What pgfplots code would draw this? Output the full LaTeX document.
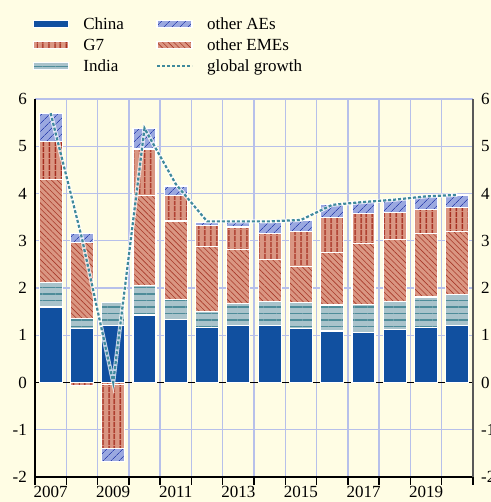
\documentclass[border=0pt]{standalone}
\usepackage{fontspec}
\setmainfont{Liberation Serif}
\usepackage{pgfplots}
\pgfplotsset{compat=1.18}
\usetikzlibrary{patterns.meta}
\definecolor{bg}{HTML}{FFFDE4}
\definecolor{chinaC}{HTML}{1150A0}
\definecolor{indiaF}{HTML}{A9C3CB}
\definecolor{indiaL}{HTML}{4E8C99}
\definecolor{emeF}{HTML}{DA9682}
\definecolor{emeL}{HTML}{A83A2A}
\definecolor{g7L}{HTML}{A52C1E}
\definecolor{aeF}{HTML}{9AA8E0}
\definecolor{aeL}{HTML}{3448B0}
\definecolor{gridC}{HTML}{B7C0EA}
\definecolor{lineC}{HTML}{3F8A9C}
\pgfplotsset{
 chinaS/.style={fill=chinaC, draw=white, line width=1.2bp},
 indiaS/.style={fill=indiaF, draw=white, line width=1.2bp, postaction={pattern={Lines[angle=0,distance=6.5bp,line width=1.8bp]}, pattern color=indiaL}},
 emeS/.style={fill=emeF, draw=white, line width=1.2bp, postaction={pattern={Lines[angle=-45,distance=4bp,line width=0.6bp]}, pattern color=emeL}},
 g7S/.style={fill=emeF, draw=white, line width=1.2bp, postaction={pattern={Lines[angle=90,distance=6bp,line width=1.8bp]}, pattern color=g7L}},
 aeS/.style={fill=aeF, draw=white, line width=1.2bp, postaction={pattern={Lines[angle=45,distance=6bp,line width=0.7bp]}, pattern color=aeL}},
 barleg/.style={legend image code/.code={\draw[##1] (0bp,-3.5bp) rectangle (35bp,3.5bp);}},
 lineleg/.style={legend image code/.code={\draw[##1] (0bp,0bp) -- (35bp,0bp);}},
 base/.style={width=438bp, height=378bp, scale only axis, at={(0,0)}, anchor=south west,
   xmin=0.5, xmax=14.5, ymin=-2, ymax=6, enlargelimits=false},
 tfont/.style={tick label style={font=\fontsize{17bp}{20bp}\selectfont}},
}
\begin{document}
\begin{tikzpicture}
\fill[bg] (-35bp,-25bp) rectangle (456bp,477bp);
% positive parts
\begin{axis}[base, ybar stacked, bar width=23bp,
 axis x line*=bottom, axis y line*=left,
 axis line style={black, line width=1.3bp},
 xtick={1,3,5,7,9,11,13}, xticklabels={2007,2009,2011,2013,2015,2017,2019},
 minor xtick={0.5,1.5,...,14.5},
 ytick={-2,-1,0,1,2,3,4,5,6},
 ymajorgrids, xminorgrids,
 grid style={gridC, line width=1.3bp},
 minor grid style={gridC, line width=1.3bp},
 major tick length=0pt, minor tick length=8bp, tick align=outside,
 minor tick style={black, line width=1.3bp},
 extra y ticks={0}, extra y tick labels={},
 extra y tick style={grid style={black, line width=1.3bp}},
 tfont, /pgf/number format/assume math mode=true,
 yticklabel style={inner xsep=8bp},
 xticklabel style={inner ysep=9bp},
]
\addplot[chinaS] coordinates {(1,1.60) (2,1.14) (3,1.20) (4,1.43) (5,1.34) (6,1.17) (7,1.21) (8,1.20) (9,1.14) (10,1.09) (11,1.06) (12,1.12) (13,1.17) (14,1.20)};
\addplot[indiaS] coordinates {(1,0.52) (2,0.22) (3,0.49) (4,0.63) (5,0.42) (6,0.34) (7,0.47) (8,0.51) (9,0.55) (10,0.55) (11,0.59) (12,0.59) (13,0.64) (14,0.66)};
\addplot[emeS] coordinates {(1,2.18) (2,1.61) (3,0) (4,1.89) (5,1.66) (6,1.36) (7,1.13) (8,0.90) (9,0.77) (10,1.11) (11,1.30) (12,1.32) (13,1.35) (14,1.34)};
\addplot[g7S] coordinates {(1,0.80) (2,0) (3,0) (4,0.99) (5,0.53) (6,0.46) (7,0.48) (8,0.54) (9,0.73) (10,0.74) (11,0.62) (12,0.57) (13,0.50) (14,0.51)};
\addplot[aeS] coordinates {(1,0.59) (2,0.18) (3,0) (4,0.44) (5,0.21) (6,0.06) (7,0.11) (8,0.24) (9,0.25) (10,0.28) (11,0.26) (12,0.27) (13,0.28) (14,0.26)};
\end{axis}
% negative parts
\begin{axis}[base, ybar stacked, bar width=23bp, hide axis]
\addplot[emeS] coordinates {(2,0) (3,-0.04)};
\addplot[g7S] coordinates {(2,-0.07) (3,-1.36)};
\addplot[aeS] coordinates {(2,0) (3,-0.28)};
\end{axis}
% global growth, right axis, legend
\begin{axis}[base, axis x line=none, axis y line*=right,
 axis line style={black!65, line width=1.3bp},
 ytick={-2,-1,0,1,2,3,4,5,6}, major tick length=0pt,
 tfont, /pgf/number format/assume math mode=true,
 yticklabel style={inner xsep=8bp},
 legend columns=2, legend cell align=left,
 legend style={at={(-0.0046,1.2196)}, anchor=north west, draw=none, fill=none,
   inner sep=0pt, font=\fontsize{17bp}{20bp}\selectfont, row sep=4.5bp,
   nodes={inner xsep=0pt, inner ysep=1.5bp},
   /tikz/every odd column/.append style={column sep=14bp},
   /tikz/every even column/.append style={column sep=32bp}},
]
\addlegendimage{barleg, chinaS}\addlegendentry{China}
\addlegendimage{barleg, aeS}\addlegendentry{other AEs}
\addlegendimage{barleg, g7S}\addlegendentry{G7}
\addlegendimage{barleg, emeS}\addlegendentry{other EMEs}
\addlegendimage{barleg, indiaS}\addlegendentry{India}
\addplot[white, line width=4bp, opacity=0.75, forget plot] coordinates {(1,5.70) (2,3.05) (3,0.0) (4,5.38) (5,4.2) (6,3.41) (7,3.41) (8,3.41) (9,3.44) (10,3.76) (11,3.82) (12,3.87) (13,3.94) (14,3.97)};
\addplot[lineC, line width=2.2bp, dash pattern=on 3bp off 2bp, lineleg] coordinates {(1,5.70) (2,3.05) (3,0.0) (4,5.38) (5,4.2) (6,3.41) (7,3.41) (8,3.41) (9,3.44) (10,3.76) (11,3.82) (12,3.87) (13,3.94) (14,3.97)};
\addlegendentry{global growth}
\end{axis}
\pgfresetboundingbox
\useasboundingbox (-35bp,-25bp) rectangle (456bp,477bp);
\end{tikzpicture}
\end{document}
